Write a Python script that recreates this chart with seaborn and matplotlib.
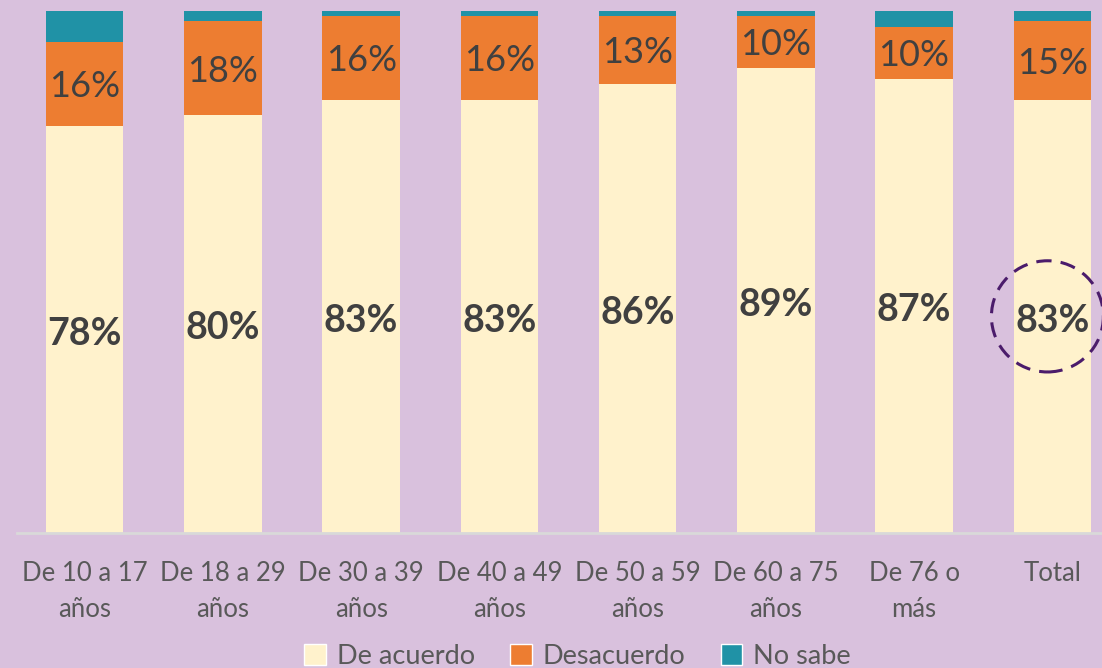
import matplotlib
matplotlib.use("Agg")
import matplotlib.pyplot as plt
from matplotlib.patches import Ellipse, Patch
import seaborn as sns
import pandas as pd
import numpy as np

# Data
groups = ["De 10 a 17\naños", "De 18 a 29\naños", "De 30 a 39\naños", "De 40 a 49\naños",
          "De 50 a 59\naños", "De 60 a 75\naños", "De 76 o\nmás", "Total"]
de_acuerdo = [78, 80, 83, 83, 86, 89, 87, 83]
desacuerdo = [16, 18, 16, 16, 13, 10, 10, 15]
no_sabe = [6, 2, 1, 1, 1, 1, 3, 2]

bg = "#D9C1DD"
c_acuerdo = "#FFF2CC"
c_desacuerdo = "#ED7D31"
c_nosabe = "#2092A6"
txt = "#404040"

sns.set_style("white")
plt.rcParams['font.family'] = ['Lato', 'DejaVu Sans']

df = pd.DataFrame({"grupo": groups, "acuerdo": de_acuerdo,
                   "desacuerdo": desacuerdo, "nosabe": no_sabe})
df["cum2"] = df["acuerdo"] + df["desacuerdo"]
df["cum3"] = df["cum2"] + df["nosabe"]

fig = plt.figure(figsize=(11.02, 6.68), dpi=100, facecolor=bg)
ax = fig.add_axes([17 / 1102, 1 - 533 / 668, 1 - 17 / 1102, (533 - 11) / 668])
ax.set_facecolor(bg)

# stacked bars drawn as overlapping cumulative layers
w = 0.56
sns.barplot(data=df, x="grupo", y="cum3", color=c_nosabe, width=w, saturation=1,
            linewidth=0, ax=ax)
sns.barplot(data=df, x="grupo", y="cum2", color=c_desacuerdo, width=w, saturation=1,
            linewidth=0, ax=ax)
sns.barplot(data=df, x="grupo", y="acuerdo", color=c_acuerdo, width=w, saturation=1,
            linewidth=0, ax=ax)

for i, row in df.iterrows():
    ax.text(i, row["acuerdo"] / 2 - 0.8, f"{row['acuerdo']}%", ha="center", va="center",
            fontsize=27, fontweight="bold", color=txt)
    ax.text(i, row["acuerdo"] + row["desacuerdo"] / 2 - 0.5, f"{row['desacuerdo']}%",
            ha="center", va="center", fontsize=26, color=txt)

# dashed circle highlighting the total
ti = len(groups) - 1
ax.add_patch(Ellipse((ti - 0.035, de_acuerdo[ti] / 2), 0.81, 21.3, fill=False,
                     edgecolor="#4B1C6B", linestyle=(0, (5, 3)), linewidth=2.2,
                     clip_on=False))

ax.set_xlim(-0.49, 7.36)
ax.set_ylim(0, 100)
ax.set_xlabel("")
ax.set_ylabel("")
ax.set_yticks([])
ax.tick_params(axis="x", length=0, pad=20, labelsize=18.5, labelcolor="#595959")
for lab in ax.get_xticklabels():
    lab.set_linespacing(1.55)
for s in ["top", "left", "right"]:
    ax.spines[s].set_visible(False)
ax.spines["bottom"].set_color("#D9D9D9")
ax.spines["bottom"].set_linewidth(2)

handles = [Patch(facecolor=c_acuerdo, label="De acuerdo"),
           Patch(facecolor=c_desacuerdo, label="Desacuerdo"),
           Patch(facecolor=c_nosabe, label="No sabe")]
fig.legend(handles=handles, loc="center", bbox_to_anchor=(0.524, 0.017), ncol=3,
           frameon=False, fontsize=19.5, labelcolor="#595959", handlelength=0.8,
           handleheight=0.8, handletextpad=0.4, columnspacing=1.3)

fig.savefig("out.png", dpi=100, facecolor=bg)
